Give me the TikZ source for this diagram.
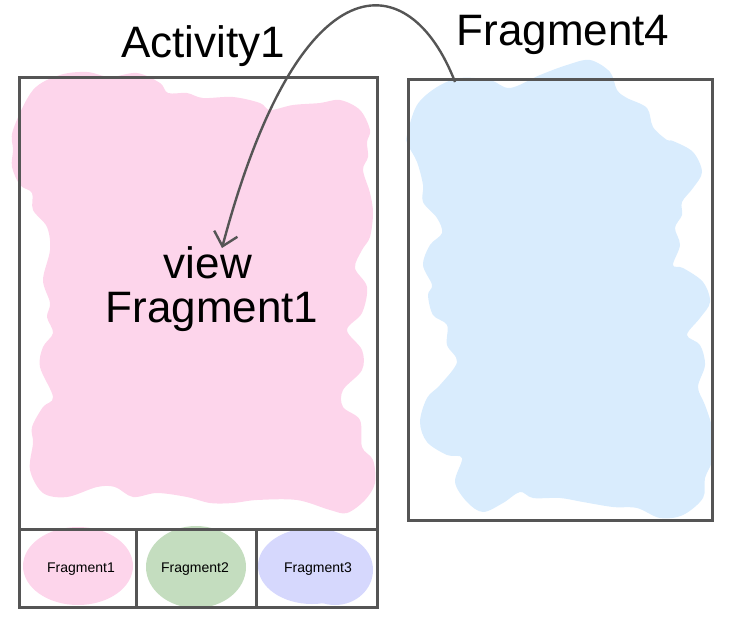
\documentclass[tikz,border=0pt]{standalone}
\usepackage{fontspec}
\setmainfont{Liberation Sans}
\usetikzlibrary{arrows.meta}
\definecolor{pinkc}{HTML}{FDD5EB}
\definecolor{bluec}{HTML}{D9ECFD}
\definecolor{greenc}{HTML}{C4DDBF}
\definecolor{lavc}{HTML}{D6D8FD}
\definecolor{linec}{HTML}{555555}
\tikzset{
  frame/.style={draw=linec, line width=3pt},
  blob/.style={smooth cycle, tension=0.55},
  bigtxt/.style={font=\fontsize{44}{44}\selectfont, inner sep=0pt, anchor=base},
  smalltxt/.style={font=\fontsize{14}{14}\selectfont, inner sep=0pt},
  linkarrow/.style={draw=linec, line width=2.4pt, -{Straight Barb[length=13pt,width=24pt,line width=2.4pt]}}
}
\begin{document}
\begin{tikzpicture}[x=1pt,y=-1pt]
\useasboundingbox (0,0) rectangle (743,627);
% pink main blob
\fill[pinkc] plot[blob] coordinates {
  (13,130) (33,90) (60,75) (87,72) (110,77) (137,73) (160,83) (168,93) (187,93) (203,98)
  (233,97) (260,103) (270,110) (293,105) (320,103) (340,100) (360,110) (370,130) (367,142)
  (368,157) (363,170) (370,193) (373,213) (370,237) (362,250) (355,268) (367,287) (362,313)
  (347,330) (362,350) (362,370) (343,390) (343,407) (360,420) (362,447) (373,460) (375,483)
  (365,500) (347,513) (330,510) (297,500) (257,500) (233,503) (210,503) (187,497) (157,493)
  (133,497) (115,487) (97,487) (67,497) (43,493) (30,470) (33,443) (32,427) (43,407) (53,397)
  (40,367) (43,347) (53,333) (47,317) (50,303) (43,280) (50,250) (47,227) (33,210) (32,193)
  (20,185) (12,167) (13,150)};
% blue blob
\fill[bluec] plot[blob] coordinates {
  (407,135) (417,105) (437,87) (460,78) (490,80) (510,88) (540,75) (567,65) (590,60) (610,72)
  (617,90) (627,98) (647,108) (653,127) (667,140) (673,141) (693,152) (702,172) (693,188)
  (682,202) (682,215) (675,228) (680,245) (673,265) (683,268) (703,282) (710,302) (700,318)
  (687,335) (700,345) (705,365) (698,387) (705,405) (712,428) (713,458) (705,478) (703,498)
  (683,515) (660,518) (637,508) (613,507) (583,502) (560,498) (533,498) (520,492) (503,503)
  (483,512) (467,502) (455,482) (462,458) (447,455) (427,442) (420,422) (427,398) (440,385)
  (457,362) (447,345) (447,325) (433,315) (428,295) (432,285) (423,265) (430,245) (442,233)
  (437,218) (423,202) (423,185) (417,162) (408,145)};
% tab blobs
\fill[pinkc] (78,566) ellipse[x radius=55pt, y radius=39pt];
\fill[greenc] (196,567) ellipse[x radius=50pt, y radius=41pt];
\fill[lavc] (312,566) ellipse[x radius=54pt, y radius=38pt];
\fill[lavc] (335,570) ellipse[x radius=38pt, y radius=35pt];
% frames
\draw[frame] (19,77) rectangle (377,607);
\draw[frame] (19,529) -- (377,529);
\draw[frame] (136,529) -- (136,607);
\draw[frame] (256,529) -- (256,607);
\draw[frame] (408,79) rectangle (712,520);
% texts
\node[bigtxt] (act) at (203,57) {Activity1};
\node[bigtxt] (frag4) at (563,45) {Fragment4};
\node[bigtxt] (view) at (208,278) {view};
\node[bigtxt] (frag1big) at (212,322) {Fragment1};
\node[smalltxt] (t1) at (81,569) {Fragment1};
\node[smalltxt] (t2) at (195,569) {Fragment2};
\node[smalltxt] (t3) at (318,569) {Fragment3};
% arrow
\coordinate (arrS) at (455,82);
\coordinate (arrE) at (222,248);
\draw[linkarrow] (arrS) .. controls (410,-35) and (300,-45) .. (arrE);
\end{tikzpicture}
\end{document}
